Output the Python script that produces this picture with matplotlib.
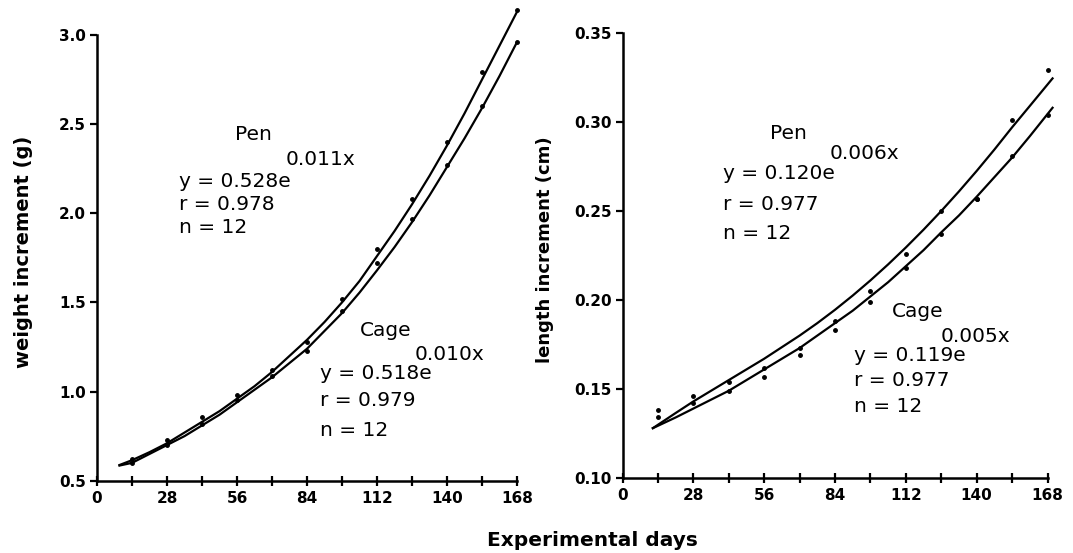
import matplotlib
matplotlib.use("Agg")
import matplotlib.pyplot as plt

# days on which the fish were measured (n = 12)
days = [14, 28, 42, 56, 70, 84, 98, 112, 126, 140, 154, 168]

# weight increment (g): measured points
w_pen_pts = [0.62, 0.73, 0.86, 0.98, 1.12, 1.28, 1.52, 1.80, 2.08, 2.40, 2.79, 3.14]
w_cage_pts = [0.60, 0.70, 0.82, 0.95, 1.09, 1.23, 1.45, 1.72, 1.97, 2.27, 2.60, 2.96]
# fitted curves, every 7 days
w_fit_days = [9, 14, 21, 28, 35, 42, 49, 56, 63, 70, 77, 84, 91, 98,
              105, 112, 119, 126, 133, 140, 147, 154, 161, 168]
w_pen_fit = [0.588, 0.615, 0.66, 0.71, 0.77, 0.83, 0.89, 0.96, 1.03, 1.11, 1.20, 1.29, 1.39, 1.50,
             1.62, 1.76, 1.90, 2.05, 2.21, 2.38, 2.56, 2.75, 2.94, 3.13]
w_cage_fit = [0.585, 0.60, 0.65, 0.70, 0.75, 0.81, 0.87, 0.94, 1.01, 1.08, 1.16, 1.24, 1.34, 1.44,
              1.555, 1.68, 1.81, 1.95, 2.10, 2.26, 2.42, 2.59, 2.77, 2.96]

# length increment (cm): measured points
l_pen_pts = [0.138, 0.146, 0.154, 0.162, 0.173, 0.188, 0.205, 0.226, 0.250, 0.257, 0.301, 0.329]
l_cage_pts = [0.134, 0.142, 0.149, 0.157, 0.169, 0.183, 0.199, 0.218, 0.237, 0.257, 0.281, 0.304]
l_fit_days = [12, 21, 28, 35, 42, 49, 56, 63, 70, 77, 84, 91, 98,
              105, 112, 119, 126, 133, 140, 147, 154, 161, 170]
l_pen_fit = [0.128, 0.1365, 0.143, 0.149, 0.155, 0.161, 0.167, 0.1735, 0.180, 0.187, 0.1945, 0.2025, 0.211,
             0.220, 0.2295, 0.2395, 0.250, 0.261, 0.2725, 0.2845, 0.297, 0.309, 0.3245]
l_cage_fit = [0.128, 0.134, 0.139, 0.144, 0.149, 0.155, 0.161, 0.167, 0.173, 0.180, 0.187, 0.194, 0.202,
              0.210, 0.219, 0.228, 0.238, 0.2475, 0.258, 0.269, 0.280, 0.292, 0.308]

x_ticks = [0, 28, 56, 84, 112, 140, 168]
x_minor = [14, 42, 70, 98, 126, 154]
w_ticks = [0.5, 1.0, 1.5, 2.0, 2.5, 3.0]
w_ticklabels = ["0.5", "1.0", "1.5", "2.0", "2.5", "3.0"]
l_ticks = [0.10, 0.15, 0.20, 0.25, 0.30, 0.35]
l_ticklabels = ["0.10", "0.15", "0.20", "0.25", "0.30", "0.35"]

plt.rcParams["font.family"] = ["DejaVu Sans"]

fig = plt.figure(figsize=(10.73, 5.53), dpi=100)
ax1 = fig.add_axes([97 / 1073, 1 - 480.7 / 553, 420 / 1073, 445.7 / 553])
ax2 = fig.add_axes([622.5 / 1073, 1 - 478 / 553, 425 / 1073, 445 / 553])


def style(ax, yticks, ylabels, ylim):
    for s in ["top", "right"]:
        ax.spines[s].set_visible(False)
    for s in ["left", "bottom"]:
        ax.spines[s].set_linewidth(1.8)
    ax.set_xlim(0, 168)
    ax.set_ylim(*ylim)
    ax.set_xticks(x_ticks)
    ax.set_xticklabels([str(t) for t in x_ticks], fontsize=11, fontweight="bold")
    ax.set_xticks(x_minor, minor=True)
    ax.set_yticks(yticks)
    ax.set_yticklabels(ylabels, fontsize=11, fontweight="bold")
    ax.tick_params(axis="x", which="both", direction="inout", length=7, width=1.6, pad=4)
    ax.tick_params(axis="y", direction="out", length=5, width=1.6, pad=3)


style(ax1, w_ticks, w_ticklabels, (0.5, 3.0))
style(ax2, l_ticks, l_ticklabels, (0.10, 0.35))

ax1.plot(w_fit_days, w_pen_fit, color="black", lw=1.6, clip_on=False)
ax1.plot(w_fit_days, w_cage_fit, color="black", lw=1.6, clip_on=False)
ax1.plot(days, w_pen_pts, "o", color="black", ms=2.5, clip_on=False)
ax1.plot(days, w_cage_pts, "o", color="black", ms=2.5, clip_on=False)

ax2.plot(l_fit_days, l_pen_fit, color="black", lw=1.6, clip_on=False)
ax2.plot(l_fit_days, l_cage_fit, color="black", lw=1.6, clip_on=False)
ax2.plot(days, l_pen_pts, "o", color="black", ms=2.5, clip_on=False)
ax2.plot(days, l_cage_pts, "o", color="black", ms=2.5, clip_on=False)

fig.text(24 / 1073, 1 - 252 / 553, "weight increment (g)", rotation=90, ha="center", va="center",
         fontsize=14, fontweight="bold")
fig.text(545.5 / 1073, 1 - 250 / 553, "length increment (cm)", rotation=90, ha="center", va="center",
         fontsize=13, fontweight="bold")
fig.text(592 / 1073, 1 - 540 / 553, "Experimental days", ha="center", va="center",
         fontsize=14.5, fontweight="bold")

ann = dict(fontsize=14.5, va="center", ha="left")
# weight, pen
ax1.text(55.3, 2.44, "Pen", **ann)
ax1.text(32.8, 2.18, "y = 0.528e", **ann)
ax1.text(75.5, 2.30, "0.011x", **ann)
ax1.text(32.8, 2.05, "r = 0.978", **ann)
ax1.text(32.8, 1.92, "n = 12", **ann)
# weight, cage
ax1.text(105.1, 1.34, "Cage", **ann)
ax1.text(89.0, 1.10, "y = 0.518e", **ann)
ax1.text(127.2, 1.21, "0.010x", **ann)
ax1.text(89.0, 0.95, "r = 0.979", **ann)
ax1.text(89.0, 0.78, "n = 12", **ann)
# length, pen
ax2.text(58.3, 0.2937, "Pen", **ann)
ax2.text(39.8, 0.2712, "y = 0.120e", **ann)
ax2.text(81.8, 0.2824, "0.006x", **ann)
ax2.text(39.8, 0.2539, "r = 0.977", **ann)
ax2.text(39.8, 0.2375, "n = 12", **ann)
# length, cage
ax2.text(106.4, 0.1934, "Cage", **ann)
ax2.text(91.4, 0.1691, "y = 0.119e", **ann)
ax2.text(125.6, 0.1794, "0.005x", **ann)
ax2.text(91.4, 0.155, "r = 0.977", **ann)
ax2.text(91.4, 0.140, "n = 12", **ann)

fig.savefig("out.png", dpi=100)
